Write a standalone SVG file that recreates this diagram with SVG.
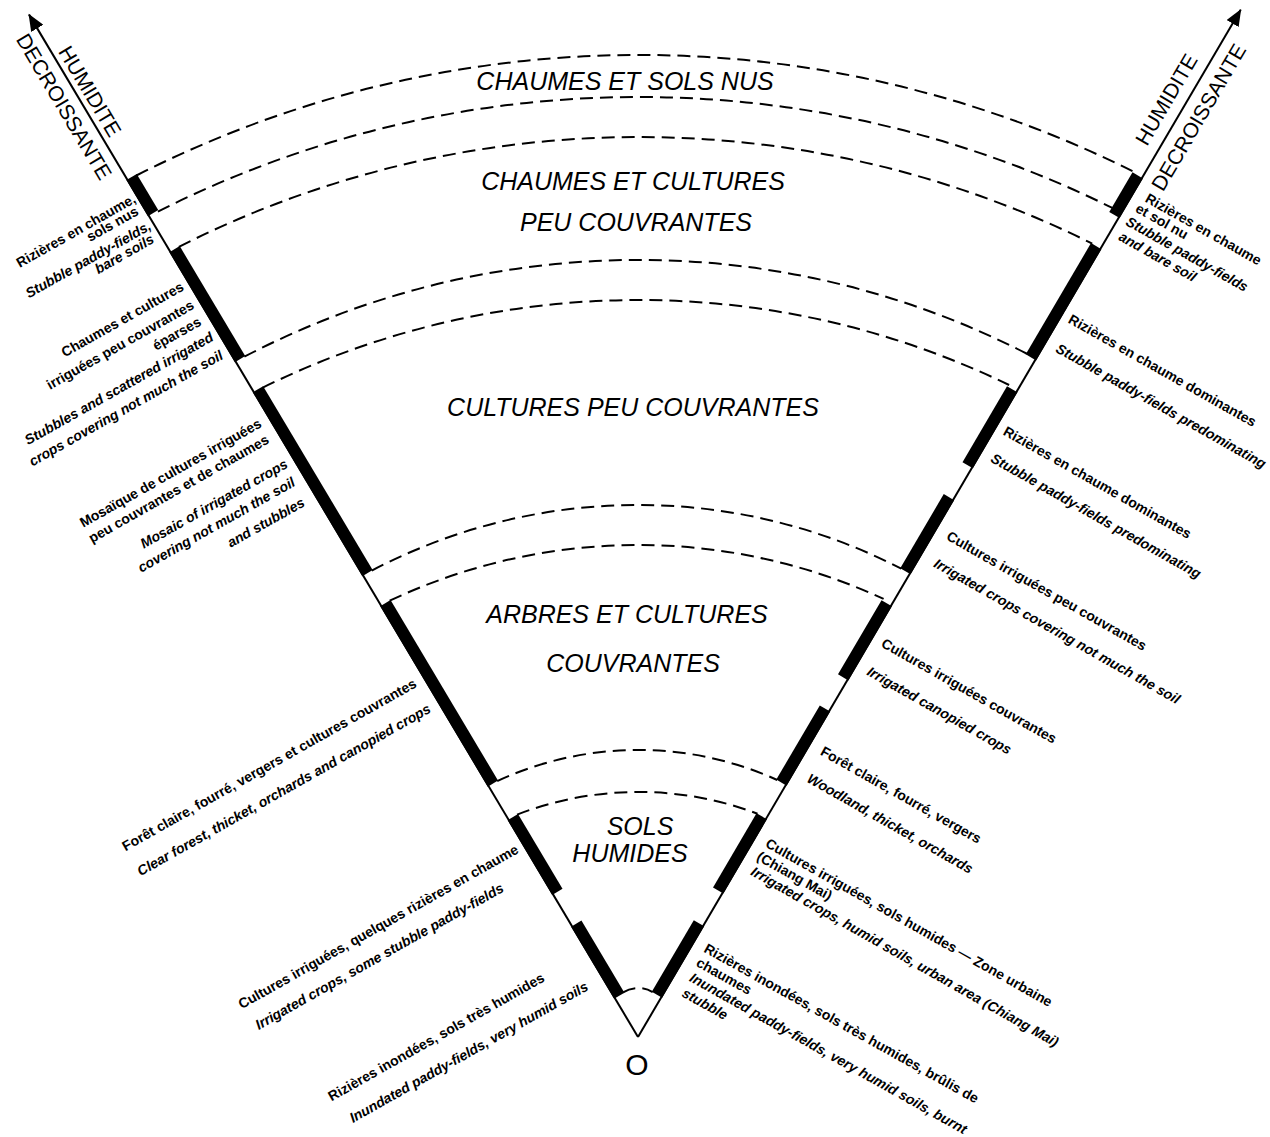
<svg xmlns="http://www.w3.org/2000/svg" width="1270" height="1137" viewBox="0 0 1270 1137">
<defs>
<style>
.ax{stroke:#000;stroke-width:2;fill:none}
.arc{stroke:#000;stroke-width:2;fill:none;stroke-dasharray:13 7}
.bar{fill:#000}
.zone{font-family:"Liberation Sans",Arial,sans-serif;font-style:italic;font-size:25px;text-anchor:middle;fill:#000}
.lab{font-family:"Liberation Sans",Arial,sans-serif;font-weight:bold;font-size:14px;fill:#000}
.en{font-style:italic}
.le{text-anchor:end}
.axl{font-family:"Liberation Sans",Arial,sans-serif;font-size:21px;text-anchor:middle;fill:#000}
</style>
<marker id="ah" markerUnits="userSpaceOnUse" markerWidth="18" markerHeight="14" refX="16" refY="7" orient="auto">
<path d="M0,0 L17,7 L0,14 z" fill="#000"/>
</marker>
</defs>
<rect width="1270" height="1137" fill="#fff"/>

<g id="connectors">
<g id="left-axis" transform="translate(638 1037) rotate(-30.78)">
<line class="ax" x1="0" y1="0" x2="0" y2="-1190" marker-end="url(#ah)"/>
<rect class="bar" x="-1" y="-998" width="12" height="42"/>
<rect class="bar" x="-1" y="-914" width="12" height="128"/>
<rect class="bar" x="-1" y="-751" width="12" height="214"/>
<rect class="bar" x="-1" y="-502" width="12" height="210"/>
<rect class="bar" x="-1" y="-253" width="12" height="87"/>
<rect class="bar" x="-1" y="-129" width="12" height="84"/>
</g>
<g id="right-axis" transform="translate(638 1037) rotate(30.4)">
<line class="ax" x1="0" y1="0" x2="0" y2="-1191" marker-end="url(#ah)"/>
<rect class="bar" x="-11" y="-996" width="12" height="46"/>
<rect class="bar" x="-11" y="-914" width="12" height="129"/>
<rect class="bar" x="-11" y="-748" width="12" height="88"/>
<rect class="bar" x="-11" y="-623" width="12" height="86"/>
<rect class="bar" x="-11" y="-500" width="12" height="86"/>
<rect class="bar" x="-11" y="-378" width="12" height="86"/>
<rect class="bar" x="-11" y="-253" width="12" height="86"/>
<rect class="bar" x="-11" y="-129" width="12" height="83"/>
</g>
<g id="arcs">
<path class="arc" d="M136.4 175.5 A1107 1107 0 0 1 1134.2 172"/>
<path class="arc" d="M157.9 211.6 A1066 1066 0 0 1 1112.9 208.2"/>
<path class="arc" d="M178.9 246.8 A1018 1018 0 0 1 1092.2 243.6"/>
<path class="arc" d="M244.4 356.7 A851 851 0 0 1 1027.4 354"/>
<path class="arc" d="M262.8 387.6 A850 850 0 0 1 1009.1 385"/>
<path class="arc" d="M371.8 570.6 A574 574 0 0 1 901.3 568.7"/>
<path class="arc" d="M389.7 600.7 A584 584 0 0 1 883.6 598.9"/>
<path class="arc" d="M497.2 781.1 A336 336 0 0 1 777.2 780"/>
<path class="arc" d="M517.1 814.6 A337 337 0 0 1 757.5 813.7"/>
<path class="arc" d="M623.1 992.4 A27.6 27.6 0 0 1 652.7 992.2"/>
</g>
</g>

<g id="zone-chaumes-sols-nus"><text class="zone" x="625" y="90">CHAUMES ET SOLS NUS</text></g>
<g id="zone-chaumes-cultures"><text class="zone" x="633" y="190">CHAUMES ET CULTURES</text><text class="zone" x="636" y="231">PEU COUVRANTES</text></g>
<g id="zone-cultures-peu"><text class="zone" x="633" y="416">CULTURES PEU COUVRANTES</text></g>
<g id="zone-arbres"><text class="zone" x="627" y="623">ARBRES ET CULTURES</text><text class="zone" x="633" y="672">COUVRANTES</text></g>
<g id="zone-sols-humides"><text class="zone" x="640" y="835">SOLS</text><text class="zone" x="630" y="862">HUMIDES</text></g>
<g id="origin"><text x="637" y="1075" font-family="Liberation Sans, Arial, sans-serif" font-size="30" text-anchor="middle">O</text></g>

<g id="left-labels" transform="translate(638 1037) rotate(-30.78)">
<g id="axis-label-left">
<text class="axl" transform="translate(5.8 -1093) rotate(90)">HUMIDITE</text>
<text class="axl" transform="translate(-24.3 -1093) rotate(90)">DECROISSANTE</text>
</g>
<g id="lbl-L1" class="lab le" transform="rotate(1.3 -3 -974)">
<text x="-3" y="-974">Rizières en chaume,</text>
<text x="-7" y="-962">sols nus</text>
<text class="en" x="-3" y="-943">Stubble paddy-fields,</text>
<text class="en" x="-7" y="-930">bare soils</text>
</g>
<g id="lbl-L2" class="lab le" transform="rotate(1.3 -7 -874)">
<text x="-7" y="-874">Chaumes et cultures</text>
<text x="-7" y="-853">irriguées peu couvrantes</text>
<text x="-9" y="-835">éparses</text>
<text class="en" x="-6" y="-815.6">Stubbles and scattered irrigated</text>
<text class="en" x="-6.5" y="-795">crops covering not much the soil</text>
</g>
<g id="lbl-L3" class="lab le" transform="rotate(1.3 -10 -716.7)">
<text x="-10" y="-716.7">Mosaïque de cultures irriguées</text>
<text x="-11.4" y="-699">peu couvrantes et de chaumes</text>
<text class="en" x="-7.3" y="-668.6">Mosaic of irrigated crops</text>
<text class="en" x="-9.7" y="-649">covering not much the soil</text>
<text class="en" x="-11.3" y="-626.7">and stubbles</text>
</g>
<g id="lbl-L4" class="lab le" transform="rotate(1.3 -10 -414)">
<text x="-10" y="-414">Forêt claire, fourré, vergers et cultures couvrantes</text>
<text class="en" x="-10" y="-385">Clear forest, thicket, orchards and canopied crops</text>
</g>
<g id="lbl-L5" class="lab le" transform="rotate(1.3 -7.3 -219.3)">
<text x="-7.3" y="-219.3">Cultures irriguées, quelques rizières en chaume</text>
<text class="en" x="-39.2" y="-193">Irrigated crops, some stubble paddy-fields</text>
</g>
<g id="lbl-L6" class="lab le" transform="rotate(1.3 -17 -80)">
<text x="-50.9" y="-95">Rizières inondées, sols très humides</text>
<text class="en" x="-17.2" y="-65.8">Inundated paddy-fields, very humid soils</text>
</g>
</g>

<g id="right-labels" transform="translate(638 1037) rotate(30.4)">
<g id="axis-label-right">
<text class="axl" transform="translate(-11.5 -1076) rotate(-90)">HUMIDITE</text>
<text class="axl" transform="translate(25.4 -1077) rotate(-90)">DECROISSANTE</text>
</g>
<g id="lbl-R1" class="lab" transform="rotate(-0.9 13.7 -977)">
<text x="13.7" y="-977">Rizières en chaume</text>
<text x="10.2" y="-963.5">et sol nu</text>
<text class="en" x="8.2" y="-947.3">Stubble paddy-fields</text>
<text class="en" x="9.6" y="-930.7">and bare soil</text>
</g>
<g id="lbl-R2" class="lab" transform="rotate(-0.9 8.6 -833.8)">
<text x="8.6" y="-833.8">Rizières en chaume dominantes</text>
<text class="en" x="12.1" y="-802.2">Stubble paddy-fields predominating</text>
</g>
<g id="lbl-R3" class="lab" transform="rotate(-0.9 9.2 -704.3)">
<text x="9.2" y="-704.3">Rizières en chaume dominantes</text>
<text class="en" x="11.6" y="-674.5">Stubble paddy-fields predominating</text>
</g>
<g id="lbl-R4" class="lab" transform="rotate(-0.9 13.2 -585)">
<text x="13.2" y="-585">Cultures irriguées peu couvrantes</text>
<text class="en" x="15.7" y="-555">Irrigated crops covering not much the soil</text>
</g>
<g id="lbl-R5" class="lab" transform="rotate(-0.9 11.3 -459.7)">
<text x="11.3" y="-459.7">Cultures irriguées couvrantes</text>
<text class="en" x="12.6" y="-428">Irrigated canopied crops</text>
</g>
<g id="lbl-R6" class="lab" transform="rotate(-0.9 13.4 -335.7)">
<text x="13.4" y="-335.7">Forêt claire, fourré, vergers</text>
<text class="en" x="15" y="-305.4">Woodland, thicket, orchards</text>
</g>
<g id="lbl-R7" class="lab" transform="rotate(-0.9 12.6 -228.5)">
<text x="12.6" y="-228.5">Cultures irriguées, sols humides — Zone urbaine</text>
<text x="11.4" y="-212.8">(Chiang Mai)</text>
<text class="en" x="13.7" y="-196.7">Irrigated crops, humid soils, urban area (Chiang Mai)</text>
</g>
<g id="lbl-R8" class="lab" transform="rotate(-1.2 12.7 -105.7)" font-size="13.5">
<text x="12.7" y="-106.7">Rizières inondées, sols très humides, brûlis de</text>
<text x="12.9" y="-90.6">chaumes</text>
<text class="en" x="14.5" y="-74.1">Inundated paddy-fields, very humid soils, burnt</text>
<text class="en" x="15.2" y="-57.1">stubble</text>
</g>
</g>
</svg>
